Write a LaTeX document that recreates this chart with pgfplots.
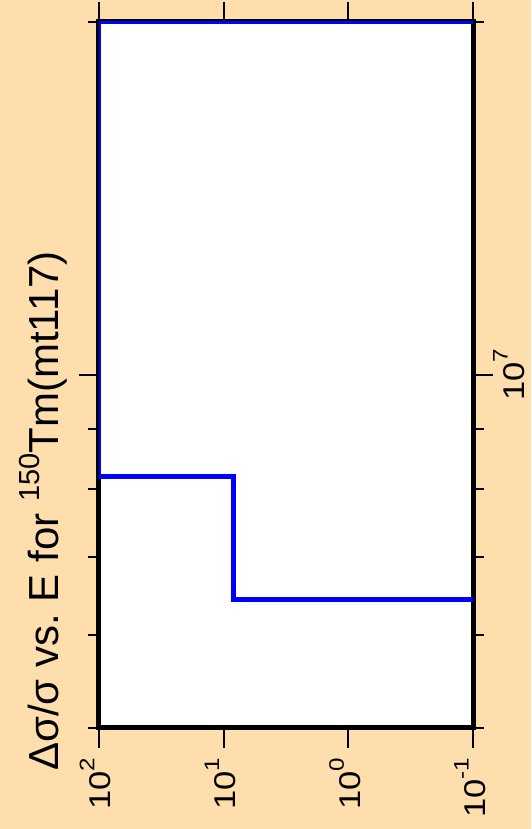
\documentclass[border=0pt]{standalone}
\usepackage{fontspec}
\setmainfont{Liberation Sans}
\usepackage{pgfplots}
\pgfplotsset{compat=1.18}
\definecolor{bgpeach}{RGB}{255,222,173}
\newcommand{\sups}[1]{\raisebox{0.55em}{\fontsize{21}{21}\selectfont #1}}
\newcommand{\tl}[1]{\mbox{\fontsize{30}{30}\selectfont 10\sups{#1}}}
\newcommand{\tsups}[1]{\raisebox{0.45em}{\fontsize{29}{29}\selectfont #1}}
\begin{document}
\begin{tikzpicture}[x=1pt,y=1pt]
\fill[bgpeach] (0,0) rectangle (531,829);
\begin{axis}[
 at={(99pt,101pt)}, anchor=south west,
 width=374pt, height=706pt, scale only axis,
 xmode=log, ymode=log,
 x dir=reverse,
 xmin=0.1, xmax=100, ymin=5e6, ymax=2e7,
 axis background/.style={fill=white},
 axis line style={line width=5pt, black},
 xtick={0.1,1,10,100},
 xticklabels={\tl{-1},\tl{0},\tl{1},\tl{2}},
 ytick={1e7}, yticklabels={\tl{7}},
 minor ytick={5e6,6e6,7e6,8e6,9e6,2e7},
 xminorticks=false,
 tick align=outside,
 major tick length=20pt, minor tick length=11pt,
 every tick/.style={black, line width=2pt},
 yticklabel pos=right,
 xticklabel pos=bottom,
 /pgf/number format/assume math mode=true,
 tick label style={inner sep=0pt},
 xticklabel shift=10pt,
 yticklabel shift=0pt,
 xticklabel style={xshift=12pt, rotate=90, xscale=1.15, anchor=base east},
 yticklabel style={rotate=90, xscale=1.15, anchor=north},
]
\addplot[blue, line width=5pt, line join=miter] coordinates {
 (0.01,6.43e6) (8.41,6.43e6) (8.41,8.19e6) (100,8.19e6) (100,2e7) (0.01,2e7)
};
\end{axis}
\node[rotate=90, font=\fontsize{42}{42}\selectfont] at (43,318) {Δσ/σ vs.\ E for \tsups{150}Tm(mt117)};
\pgfresetboundingbox
\path (0,0) rectangle (531,829);
\end{tikzpicture}
\end{document}
